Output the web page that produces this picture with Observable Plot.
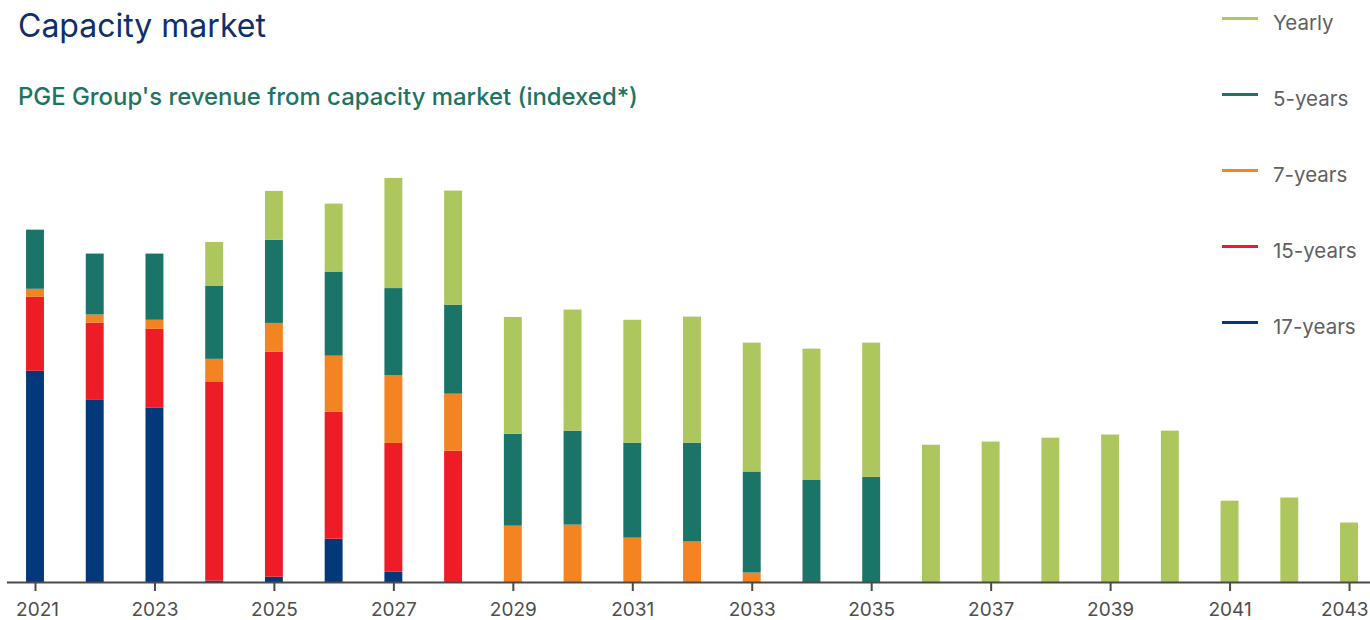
<!DOCTYPE html>
<html>
<head>
<meta charset="utf-8">
<script src="https://cdn.jsdelivr.net/npm/d3@7"></script>
<script src="https://cdn.jsdelivr.net/npm/@observablehq/plot@0.6"></script>
<style>
  html, body { margin: 0; padding: 0; background: #fff; overflow: hidden; }
  #wrap { position: relative; width: 1370px; height: 620px; font-family: Inter, Roboto, sans-serif; }
  .title { position: absolute; left: 18px; top: 7.7px; font-size: 32px; line-height: 36px; color: #0e2f6b; white-space: nowrap; }
  .subtitle { position: absolute; left: 18px; top: 84.3px; font-size: 23.9px; line-height: 26px; font-weight: 500; color: #1e7463; white-space: nowrap; }
  .legend-item { position: absolute; left: 1222px; height: 24px; }
  .legend-item .sw { position: absolute; left: 0; width: 36px; height: 3px; }
  .legend-item .lb { position: absolute; left: 51px; font-size: 20.5px; line-height: 24px; color: #606060; white-space: nowrap; }
  #chart { position: absolute; left: 0; top: 130px; }
</style>
</head>
<body>
<div id="wrap">
  <div class="title">Capacity market</div>
  <div class="subtitle">PGE Group's revenue from capacity market (indexed*)</div>
  <div id="legend"></div>
  <div id="chart"></div>
</div>
<script>
// Data (indexed values)
const years = [2021,2022,2023,2024,2025,2026,2027,2028,2029,2030,2031,2032,2033,2034,2035,2036,2037,2038,2039,2040,2041,2042,2043];
const series = ["17-years", "15-years", "7-years", "5-years", "Yearly"];
const colors = ["#03387a", "#ed1c26", "#f48322", "#1b7468", "#aec65e"];
const years17 = [60.0, 51.9, 49.6, 0.4, 1.5, 12.3, 2.9, 0, 0, 0, 0, 0, 0, 0, 0, 0, 0, 0, 0, 0, 0, 0, 0];
const years15 = [21.0, 21.8, 22.3, 56.6, 63.9, 36.1, 36.6, 37.3, 0, 0, 0, 0, 0, 0, 0, 0, 0, 0, 0, 0, 0, 0, 0];
const years7  = [2.3, 2.3, 2.6, 6.4, 8.2, 15.9, 19.3, 16.2, 16.0, 16.3, 12.6, 11.5, 2.7, 0, 0, 0, 0, 0, 0, 0, 0, 0, 0];
const years5  = [16.8, 17.3, 18.8, 20.7, 23.6, 23.9, 24.7, 25.3, 26.1, 26.7, 27.0, 28.1, 28.7, 29.1, 29.9, 0, 0, 0, 0, 0, 0, 0, 0];
const yearly  = [0, 0, 0, 12.5, 13.9, 19.3, 31.3, 32.4, 33.2, 34.4, 34.9, 35.8, 36.6, 37.2, 38.1, 39.0, 39.9, 41.0, 41.9, 43.0, 23.1, 24.0, 16.9];
const tickYears = years.filter(y => y % 2 === 1);

const seriesValues = [years17, years15, years7, years5, yearly];
const data = [];
years.forEach((yr, i) => {
  series.forEach((s, k) => {
    data.push({year: yr, series: s, value: seriesValues[k][i]});
  });
});

// Legend (top to bottom: Yearly ... 17-years)
const legend = document.getElementById("legend");
const legendOrder = ["Yearly", "5-years", "7-years", "15-years", "17-years"];
legendOrder.forEach((s, i) => {
  const item = document.createElement("div");
  item.className = "legend-item";
  item.style.top = (i * 76) + "px";
  const sw = document.createElement("div");
  sw.className = "sw";
  sw.style.top = "16.5px";
  sw.style.background = colors[series.indexOf(s)];
  const lb = document.createElement("div");
  lb.className = "lb";
  lb.style.top = "10.5px";
  lb.textContent = s;
  item.appendChild(sw);
  item.appendChild(lb);
  legend.appendChild(item);
});

const firstTick = tickYears[0];
const lastTick = tickYears[tickYears.length - 1];
const midTicks = tickYears.slice(1, -1);
const labelStyle = {
  text: d => String(d),
  frameAnchor: "bottom",
  lineAnchor: "top",
  dy: 20,
  fill: "#4d4d4d",
  fontSize: 19
};

const chart = Plot.plot({
  width: 1370,
  height: 490,
  marginLeft: 7,
  marginRight: 0,
  marginTop: 29.6,
  marginBottom: 38,
  style: {fontFamily: "Inter, Roboto, sans-serif", background: "transparent"},
  x: {type: "band", domain: years, paddingInner: 0.7, paddingOuter: 0.26, align: 0.613, round: false, label: null},
  y: {domain: [0, 120], axis: null},
  color: {domain: series, range: colors},
  marks: [
    Plot.barY(data, {x: "year", y: "value", fill: "series", order: series}),
    Plot.ruleY([0], {stroke: "#4a4a4a", strokeWidth: 2}),
    Plot.axisX({
      ticks: tickYears,
      tickFormat: () => "",
      tickSize: 9,
      stroke: "#4a4a4a",
      strokeWidth: 2,
      label: null
    }),
    Plot.text(midTicks, {x: d => d, ...labelStyle}),
    Plot.text([firstTick], {x: d => d, ...labelStyle, dx: 2}),
    Plot.text([lastTick], {x: d => d, ...labelStyle, textAnchor: "end", dx: 19})
  ]
});
document.getElementById("chart").appendChild(chart);
</script>
</body>
</html>
